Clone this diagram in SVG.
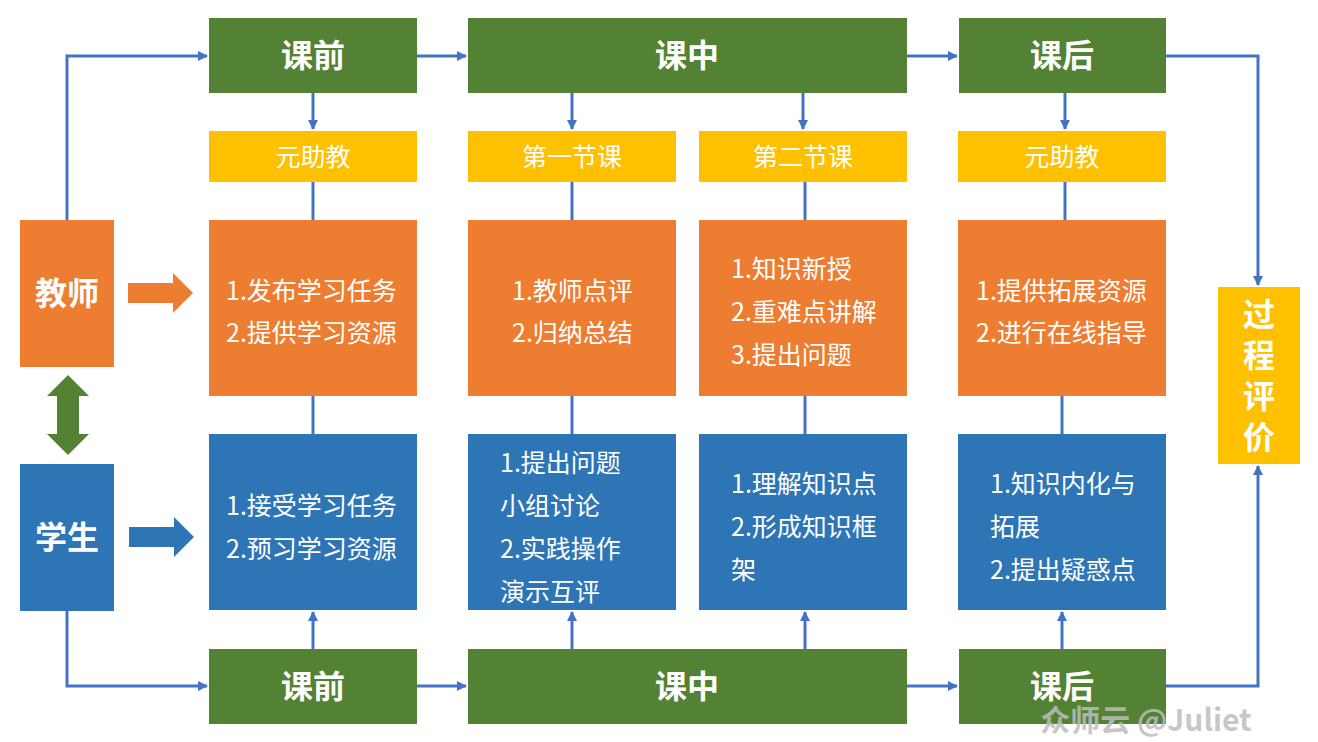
<svg xmlns="http://www.w3.org/2000/svg" width="1318" height="742" viewBox="0 0 1318 742">
<style>
.g{fill:#548235}.y{fill:#FFC000}.o{fill:#ED7D31}.b{fill:#2E75B6}
text{font-family:"Noto Sans CJK SC","Noto Sans",sans-serif;fill:#fff}
.h{font-size:32px;font-weight:bold;text-anchor:middle}
.s{font-size:25px;text-anchor:middle}
.t{font-size:25px}
.c{fill:none;stroke:#4472C4;stroke-width:3}
</style>
<defs>
<marker id="ah" markerUnits="userSpaceOnUse" markerWidth="10" markerHeight="10" refX="9" refY="5" orient="auto">
<path d="M0,0 L10,5 L0,10 z" fill="#4472C4"/>
</marker>
</defs>
<rect width="1318" height="742" fill="#fff"/>
<g id="connectors">
<path class="c" d="M67,220 V56 H207" marker-end="url(#ah)"/>
<path class="c" d="M417,56 H466" marker-end="url(#ah)"/>
<path class="c" d="M907,56 H957" marker-end="url(#ah)"/>
<path class="c" d="M1166,56 H1258 V285" marker-end="url(#ah)"/>
<path class="c" d="M67,611 V686 H207" marker-end="url(#ah)"/>
<path class="c" d="M417,686 H466" marker-end="url(#ah)"/>
<path class="c" d="M907,686 H957" marker-end="url(#ah)"/>
<path class="c" d="M1166,686 H1258 V466" marker-end="url(#ah)"/>
<path class="c" d="M313,93 V129" marker-end="url(#ah)"/>
<path class="c" d="M572,93 V129" marker-end="url(#ah)"/>
<path class="c" d="M803,93 V129" marker-end="url(#ah)"/>
<path class="c" d="M1065,93 V129" marker-end="url(#ah)"/>
<path class="c" d="M313,182 V220 M572,182 V220 M805,182 V220 M1065,182 V220"/>
<path class="c" d="M313,396 V434 M572,396 V434 M805,396 V434 M1062,396 V434"/>
<path class="c" d="M313,649 V612" marker-end="url(#ah)"/>
<path class="c" d="M572,649 V612" marker-end="url(#ah)"/>
<path class="c" d="M805,649 V612" marker-end="url(#ah)"/>
<path class="c" d="M1062,649 V612" marker-end="url(#ah)"/>
</g>
<g id="teacher"><rect class="o" x="20" y="220" width="94" height="147"/><text class="h" x="67" y="305">教师</text></g>
<g id="student"><rect class="b" x="20" y="464" width="94" height="147"/><text class="h" x="67" y="549">学生</text></g>
<g id="both-arrow"><path class="g" d="M68,375 L89,396 L79,396 L79,434 L89,434 L68,455 L47,434 L57,434 L57,396 L47,396 z"/></g>
<g id="teacher-arrow"><path class="o" d="M128,283 H173 V273 L193,293 L173,313 V303 H128 z"/></g>
<g id="student-arrow"><path class="b" d="M129,527 H174 V517 L194,537 L174,557 V547 H129 z"/></g>
<g id="top-pre"><rect class="g" x="209" y="18" width="208" height="75"/><text class="h" x="313" y="67">课前</text></g>
<g id="top-mid"><rect class="g" x="468" y="18" width="439" height="75"/><text class="h" x="687" y="67">课中</text></g>
<g id="top-post"><rect class="g" x="959" y="18" width="207" height="75"/><text class="h" x="1062" y="67">课后</text></g>
<g id="y1"><rect class="y" x="209" y="131" width="208" height="51"/><text class="s" x="313" y="166">元助教</text></g>
<g id="y2"><rect class="y" x="468" y="131" width="208" height="51"/><text class="s" x="572" y="166">第一节课</text></g>
<g id="y3"><rect class="y" x="699" y="131" width="208" height="51"/><text class="s" x="803" y="166">第二节课</text></g>
<g id="y4"><rect class="y" x="958" y="131" width="208" height="51"/><text class="s" x="1062" y="166">元助教</text></g>
<g id="o1"><rect class="o" x="209" y="220" width="208" height="176"/><text class="t" x="226" y="300">1.发布学习任务</text><text class="t" x="226" y="342">2.提供学习资源</text></g>
<g id="o2"><rect class="o" x="468" y="220" width="208" height="176"/><text class="t" x="512" y="300">1.教师点评</text><text class="t" x="512" y="342">2.归纳总结</text></g>
<g id="o3"><rect class="o" x="699" y="220" width="208" height="176"/><text class="t" x="731" y="278">1.知识新授</text><text class="t" x="731" y="321">2.重难点讲解</text><text class="t" x="731" y="364">3.提出问题</text></g>
<g id="o4"><rect class="o" x="958" y="220" width="208" height="176"/><text class="t" x="976" y="300">1.提供拓展资源</text><text class="t" x="976" y="342">2.进行在线指导</text></g>
<g id="b1"><rect class="b" x="209" y="434" width="208" height="176"/><text class="t" x="226" y="515">1.接受学习任务</text><text class="t" x="226" y="558">2.预习学习资源</text></g>
<g id="b2"><rect class="b" x="468" y="434" width="208" height="176"/><text class="t" x="500" y="472">1.提出问题</text><text class="t" x="500" y="515">小组讨论</text><text class="t" x="500" y="558">2.实践操作</text><text class="t" x="500" y="601">演示互评</text></g>
<g id="b3"><rect class="b" x="699" y="434" width="208" height="176"/><text class="t" x="731" y="493">1.理解知识点</text><text class="t" x="731" y="536">2.形成知识框</text><text class="t" x="731" y="579">架</text></g>
<g id="b4"><rect class="b" x="958" y="434" width="208" height="176"/><text class="t" x="990" y="493">1.知识内化与</text><text class="t" x="990" y="536">拓展</text><text class="t" x="990" y="579">2.提出疑惑点</text></g>
<g id="bot-pre"><rect class="g" x="209" y="649" width="208" height="75"/><text class="h" x="313" y="698">课前</text></g>
<g id="bot-mid"><rect class="g" x="468" y="649" width="439" height="75"/><text class="h" x="687" y="698">课中</text></g>
<g id="bot-post"><rect class="g" x="959" y="649" width="207" height="75"/><text class="h" x="1062" y="698">课后</text></g>
<g id="eval"><rect class="y" x="1218" y="287" width="82" height="177"/>
<text x="1259" y="298" writing-mode="vertical-rl" letter-spacing="9" style="font-size:32px;font-weight:bold">过程评价</text></g>
<text x="1146" y="731" style="font-size:30px;font-weight:bold;fill:#bdbdbd;fill-opacity:0.85;text-anchor:middle">众师云 @Juliet</text>
</svg>
